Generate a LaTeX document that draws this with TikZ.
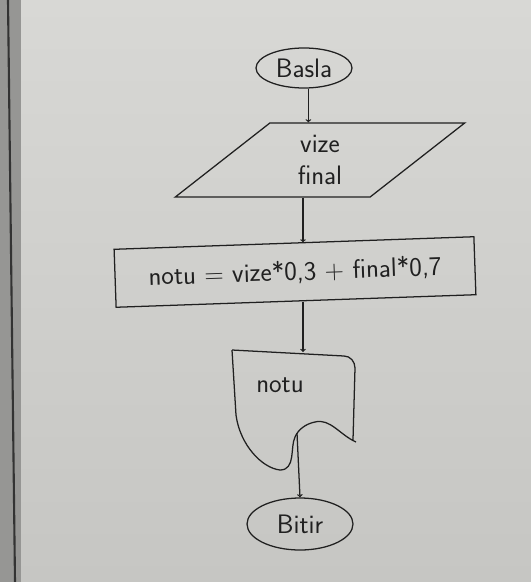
\documentclass[tikz,border=0pt]{standalone}
\usepackage{fontspec}
\usetikzlibrary{shapes.geometric}

\definecolor{tahta}{RGB}{216,216,213}
\definecolor{tahtaalt}{RGB}{198,198,195}
\definecolor{murekkep}{RGB}{32,32,32}
\definecolor{cerceve}{RGB}{150,150,148}

\tikzset{
  cizgi/.style={draw=murekkep, line width=1.8pt},
  yazi/.style={text=murekkep, font=\sffamily\fontsize{38}{46}\selectfont},
  baslabitir/.style={cizgi, yazi, ellipse, inner sep=0pt},
  girdi/.style={cizgi, yazi, trapezium, trapezium left angle=50,
    trapezium right angle=130, trapezium stretches=true, align=center, inner sep=0pt},
  islem/.style={cizgi, yazi, rectangle, inner sep=0pt},
  ok/.style={murekkep, line width=1.8pt, ->}
}

\begin{document}
\begin{tikzpicture}[x=0.05cm,y=-0.05cm]
\useasboundingbox (0,0) rectangle (531,582);
% tahta
\shade[top color=tahta, bottom color=tahtaalt] (0,0) rectangle (531,582);
\fill[cerceve] (0,0) rectangle (21,582);
\draw[black!80, line width=3pt] (8,0) -- (15,582);

\coordinate (orta) at (303,0);

\node[baslabitir, minimum width=4.8cm, minimum height=2cm] (basla) at (304,68) {Basla};
\node[girdi, minimum width=14.5cm, minimum height=3.7cm] (oku) at (320,160) {vize\\final};
\node[islem, rotate=2, minimum width=18cm, minimum height=2.9cm] (formul) at (295,272)
  {notu = vize*0,3 + final*0,7};

% cikti (ekran) sekli
\draw[cizgi] (232,350) -- (344,356) to[out=0,in=90] (355,368) -- (353,440)
  (356,442) .. controls (340,435) and (330,418) .. (315,422)
  .. controls (305,424) and (298,430) .. (295,437)
  .. controls (290,447) and (296,470) .. (280,470)
  .. controls (262,468) and (240,445) .. (236,415) -- (232,350);
\node[yazi] (notu) at (280,385) {notu};
\coordinate (ust) at (303,352);
\coordinate (dalga) at (297,433);

\node[baslabitir, minimum width=5.3cm, minimum height=2.6cm] (bitir) at (300,524) {Bitir};

\draw[ok] (basla.-78) -- (basla.-78 |- oku.north);
\draw[ok] (oku.south -| orta) -- (formul.north -| orta);
\draw[ok] (formul.south -| orta) -- (ust);
\draw[ok] (dalga) -- (bitir.north);
\end{tikzpicture}
\end{document}
